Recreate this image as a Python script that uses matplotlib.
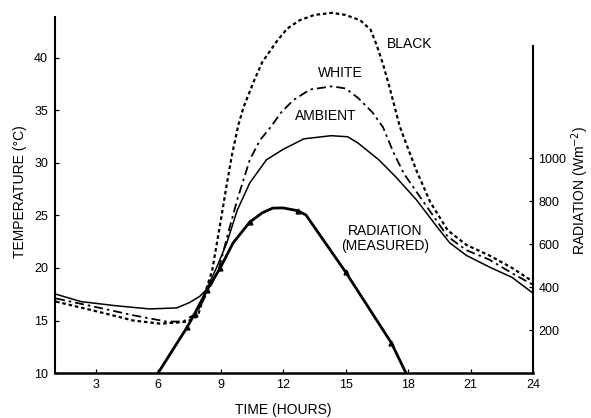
import matplotlib
matplotlib.use("Agg")
import matplotlib.pyplot as plt

plt.rcParams['font.family'] = ['Liberation Sans', 'DejaVu Sans']

# ---- data ----
black_hours = [1.1, 3.2, 4.8, 6.1, 6.9, 7.4, 7.9, 8.25, 8.6, 9.05, 9.3, 9.55, 9.85, 10.1,
               10.6, 11.0, 11.7, 12.2, 12.8, 13.5, 14.35, 15.0, 15.7, 16.2, 16.5, 16.8,
               17.1, 17.6, 17.9, 18.4, 19.06, 19.9, 20.8, 21.9, 23.0, 24.0]
black_temp = [16.8, 15.8, 15.0, 14.7, 14.8, 14.9, 15.4, 17.6, 19.8, 25.0, 28.0, 30.8, 33.6, 35.3,
              37.8, 39.6, 41.6, 42.8, 43.6, 44.1, 44.3, 44.1, 43.6, 42.7, 41.2, 39.4,
              37.3, 33.5, 31.9, 29.3, 26.3, 23.6, 22.2, 21.2, 20.0, 18.7]

white_hours = [1.1, 3.2, 4.8, 6.4, 7.2, 7.85, 8.5, 8.9, 9.4, 9.8, 10.4, 10.9, 11.4, 11.9,
               12.5, 13.3, 14.35, 15.0, 15.6, 16.3, 16.8, 17.3, 17.8, 18.6, 19.06, 19.9,
               20.8, 21.9, 23.0, 24.0]
white_temp = [17.1, 16.2, 15.5, 14.9, 14.9, 15.7, 18.2, 19.8, 23.6, 26.5, 30.3, 32.2, 33.4, 34.8,
              36.0, 37.0, 37.3, 37.1, 36.2, 34.8, 33.4, 31.0, 29.0, 26.7, 25.4, 23.0,
              21.7, 20.8, 19.5, 18.4]

amb_hours = [1.1, 2.3, 4.0, 5.6, 6.9, 7.5, 8.0, 8.3, 8.8, 9.3, 9.8, 10.4, 11.2, 12.0, 13.0,
             14.3, 15.1, 15.6, 16.6, 17.4, 18.4, 19.4, 20.0, 20.8, 21.9, 23.0, 24.0]
amb_temp = [17.5, 16.8, 16.4, 16.1, 16.2, 16.7, 17.3, 17.9, 20.0, 22.4, 25.5, 28.1, 30.3, 31.3, 32.3,
            32.6, 32.5, 31.9, 30.3, 28.7, 26.5, 23.9, 22.4, 21.2, 20.1, 19.1, 17.6]

rad_hours = [6.0, 7.4, 7.75, 8.35, 8.98, 9.6, 10.4, 11.0, 11.5, 12.0, 12.7, 13.1, 15.0, 17.2, 17.9]
rad_values = [0, 214, 275, 386, 488, 605, 702, 745, 767, 768, 755, 735, 470, 140, 0]
rad_marker_idx = [1, 2, 3, 4, 6, 10, 12, 13]

x_ticks = [3, 6, 9, 12, 15, 18, 21, 24]
temp_ticks = [10, 15, 20, 25, 30, 35, 40]
rad_ticks = [200, 400, 600, 800, 1000]

# ---- figure ----
W, H = 591, 418
fig = plt.figure(figsize=(W / 100, H / 100), dpi=100)
ax = fig.add_axes([55 / W, (H - 373) / H, 478 / W, 363.3 / H])

ax.plot(black_hours, black_temp, color='black', lw=1.6, linestyle=(0, (1.6, 1.3)))
ax.plot(white_hours, white_temp, color='black', lw=1.3, linestyle=(0, (5, 2.2, 1.4, 2.2)))
ax.plot(amb_hours, amb_temp, color='black', lw=1.1, linestyle='-')

ax.set_xlim(1.05, 24)
ax.set_ylim(10, 44.6)
ax.set_xticks(x_ticks)
ax.set_yticks(temp_ticks)
ax.spines['top'].set_visible(False)
ax.spines['right'].set_visible(False)
ax.spines['left'].set_bounds(10, 43.9)
ax.spines['left'].set_linewidth(1.5)
ax.spines['bottom'].set_linewidth(1.8)
ax.tick_params(direction='in', length=3, width=0.9, labelsize=9)
ax.tick_params(axis='y', pad=5)
ax.tick_params(axis='x', pad=4)

ax2 = ax.twinx()
ax2.plot(rad_hours, rad_values, color='black', lw=2.0, marker='^', markersize=3.5,
         markevery=rad_marker_idx)
ax2.set_ylim(0, 1690)
ax2.set_yticks(rad_ticks)
for s in ['top', 'left', 'bottom']:
    ax2.spines[s].set_visible(False)
ax2.spines['right'].set_bounds(0, 1520)
ax2.spines['right'].set_linewidth(1.5)
ax2.tick_params(direction='in', length=3, width=0.9, labelsize=9, pad=4)

# annotations
ax.text(17.0, 41.3, 'BLACK', fontsize=10, ha='left', va='center')
ax.text(13.68, 38.6, 'WHITE', fontsize=10, ha='left', va='center')
ax.text(12.58, 34.5, 'AMBIENT', fontsize=10, ha='left', va='center')
ax.text(16.9, 22.8, 'RADIATION\n(MEASURED)', fontsize=10, ha='center', va='center',
        linespacing=1.15)

fig.text(20 / W, 1 - 192 / H, 'TEMPERATURE (°C)', rotation=90, fontsize=10,
         ha='center', va='center')
fig.text(580 / W, 1 - 190 / H, 'RADIATION (Wm$^{-2}$)', rotation=90, fontsize=10,
         ha='center', va='center')
fig.text(283 / W, 1 - 410 / H, 'TIME (HOURS)', fontsize=10, ha='center', va='center')

fig.savefig('out.png', dpi=100)
